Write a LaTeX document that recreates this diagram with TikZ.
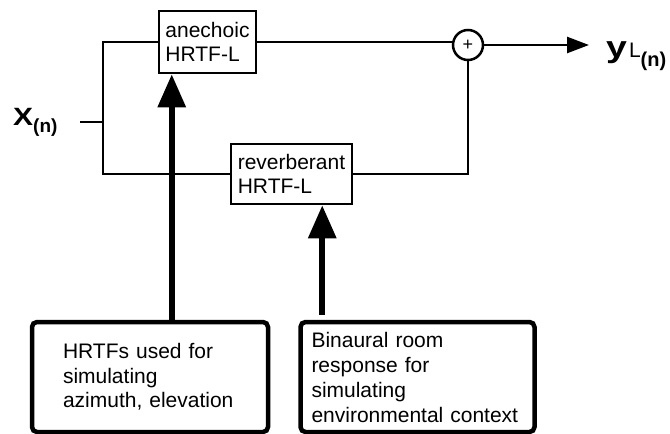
\documentclass[tikz,border=0pt]{standalone}
\usepackage{graphicx}
\usepackage{fontspec}
\setmainfont{Liberation Sans}
\usetikzlibrary{arrows.meta,positioning}
\hyphenpenalty=10000

\begin{document}
\begin{tikzpicture}[
    x=1pt, y=-1pt,
    font=\fontsize{21}{24.5}\selectfont,
    block/.style={draw, line width=2.5pt, align=left, inner xsep=6pt,
                  inner ysep=0pt, minimum height=60pt},
    source/.style={draw, line width=4.5pt, rounded corners=5pt, align=left,
                   minimum height=110pt, inner ysep=0pt},
    sum/.style={draw, circle, line width=2.5pt, minimum size=30pt, inner sep=0pt,
                font=\fontsize{18}{18}\selectfont},
    wire/.style={line width=2.5pt},
    outarrow/.style={wire, -{Triangle[length=22pt,width=16pt]}},
    feed/.style={line width=6pt, -{Triangle[length=33pt,width=27pt]}},
]
\useasboundingbox (0,0) rectangle (670,434);

% Filters
\node[block, minimum width=97pt, minimum height=62pt] (anechoic) at (207.5,42)
    {anechoic\\HRTF-L};
\node[block, minimum width=121pt] (reverb) at (291.5,174)
    {reverberant\\HRTF-L};
\node[sum] (sum) at (468,45) {+};

% Sources
\node[source, text width=174pt, inner xsep=31pt] (hrtfs) at (150,377)
    {HRTFs used for\\simulating\\azimuth, elevation};
\node[source, text width=212pt, inner xsep=11pt, right=28pt of hrtfs,
      font=\fontsize{21}{25}\selectfont] (binaural)
    {Binaural room\\response for\\simulating\\environmental context};

% Signals
\node[anchor=base west, inner sep=0pt] (xin) at (13,125)
    {\bfseries\fontsize{25}{25}\selectfont\scalebox{1.2}[1]{X}%
     \raisebox{-7pt}{\fontsize{19}{19}\selectfont(n)}};
\node[anchor=base west, inner sep=0pt] (yout) at (606,57)
    {\bfseries\fontsize{30}{30}\selectfont\scalebox{1.25}[1]{y}%
     \mdseries\fontsize{21}{21}\selectfont\kern2pt L%
     \raisebox{-9pt}{\bfseries\fontsize{20}{20}\selectfont(n)}};

\coordinate (stub) at (80,122);
\coordinate (split) at (103,122);
\coordinate (ytip) at (589,45);
\coordinate (a1) at ([xshift=14pt]anechoic.south west);
\coordinate (a2) at ([xshift=-31pt]reverb.south east);
\coordinate (a2top) at (a2 |- binaural.north);

% Connections
\draw[wire] (stub) -- (split);
\draw[wire] (anechoic.west) -| (split) |- (reverb.west);
\draw[wire] (anechoic.east) -- (anechoic.east -| sum.west);
\draw[wire] (reverb.east) -| (sum.south);
\draw[outarrow] (sum.east) -- (ytip);
\draw[feed] (hrtfs.north -| a1) -- (a1);
\draw[feed] ([yshift=5pt]a2top) -- (a2);

\end{tikzpicture}
\end{document}
